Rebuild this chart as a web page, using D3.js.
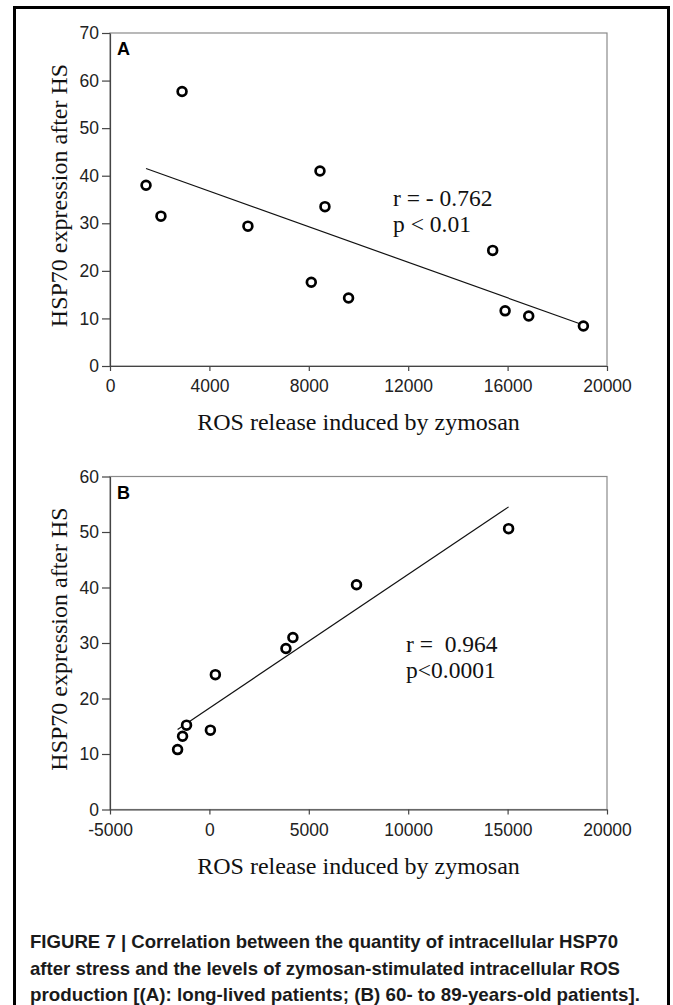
<!DOCTYPE html>
<html>
<head>
<meta charset="utf-8">
<script src="https://cdn.jsdelivr.net/npm/d3@7"></script>
<style>
  body { margin: 0; background: #fff; }
  svg { display: block; }
</style>
</head>
<body>
<svg id="fig"></svg>
<script>
// panel A: long-lived patients
const rosA = [2900, 1450, 2050, 5550, 8450, 8650, 8100, 9600, 15400, 15900, 16850, 19050];
const hspA = [57.7, 38.0, 31.5, 29.4, 41.0, 33.5, 17.6, 14.3, 24.3, 11.6, 10.5, 8.4];
const xTicksA = [0, 4000, 8000, 12000, 16000, 20000];
const yTicksA = [0, 10, 20, 30, 40, 50, 60, 70];
const statsA = ["r = - 0.762", "p < 0.01"];

// panel B: 60- to 89-years-old patients
const rosB = [7400, 3850, 4200, 300, -1150, -1350, 50, -1600, 15050];
const hspB = [40.5, 29.0, 31.0, 24.3, 15.2, 13.2, 14.3, 10.8, 50.6];
const xTicksB = [-5000, 0, 5000, 10000, 15000, 20000];
const yTicksB = [0, 10, 20, 30, 40, 50, 60];
const statsB = ["r =  0.964", "p<0.0001"];

const captionLines = [
  "FIGURE 7 | Correlation between the quantity of intracellular HSP70",
  "after stress and the levels of zymosan-stimulated intracellular ROS",
  "production [(A): long-lived patients; (B) 60- to 89-years-old patients]."
];

const width = 673;
const height = 1005;
const svg = d3.select("#fig").attr("width", width).attr("height", height);

// outer figure frame (bottom runs off the page)
svg.append("path")
  .attr("d", `M14.5,${height + 5} V7.5 H668.5 V${height + 5}`)
  .attr("fill", "none")
  .attr("stroke", "#000")
  .attr("stroke-width", 3);

function linfit(xs, ys) {
  const mx = d3.mean(xs), my = d3.mean(ys);
  let sxy = 0, sxx = 0;
  xs.forEach((x, i) => { sxy += (x - mx) * (ys[i] - my); sxx += (x - mx) ** 2; });
  const b = sxy / sxx;
  return (x) => my + b * (x - mx);
}

function drawPanel(cfg) {
  const { xs, ys, xTicks, yTicks, top, bottom, label, stats, statsX, statsY } = cfg;
  const left = 110, right = 607;
  const x = d3.scaleLinear().domain(d3.extent(xTicks)).range([left, right]);
  const y = d3.scaleLinear().domain(d3.extent(yTicks)).range([bottom, top]);
  const g = svg.append("g");

  // plot box
  g.append("rect")
    .attr("x", left).attr("y", top)
    .attr("width", right - left).attr("height", bottom - top)
    .attr("fill", "none").attr("stroke", "#8a8a8a").attr("stroke-width", 1.2);

  const yAxis = g.append("g")
    .attr("transform", `translate(${left},0)`)
    .call(d3.axisLeft(y).tickValues(yTicks).tickSize(8).tickSizeOuter(0).tickPadding(3));
  const xAxis = g.append("g")
    .attr("transform", `translate(0,${bottom})`)
    .call(d3.axisBottom(x).tickValues(xTicks).tickSize(5).tickSizeOuter(0).tickPadding(9)
      .tickFormat((d) => String(d)));
  [xAxis, yAxis].forEach((a) => {
    a.attr("font-size", null).attr("font-family", null);
    a.select(".domain").attr("stroke", "#444").attr("stroke-width", 1.2);
    a.selectAll(".tick line").attr("stroke", "#444").attr("stroke-width", 1.2);
    a.selectAll("text")
      .style("font-family", "Arial, 'Liberation Sans', sans-serif")
      .style("font-size", "17.5px")
      .attr("fill", "#222");
  });

  // regression line over the data range
  const fit = linfit(xs, ys);
  const [x0, x1] = d3.extent(xs);
  g.append("line")
    .attr("x1", x(x0)).attr("y1", y(fit(x0)))
    .attr("x2", x(x1)).attr("y2", y(fit(x1)))
    .attr("stroke", "#111").attr("stroke-width", 1.2);

  g.selectAll("circle")
    .data(xs.map((v, i) => [v, ys[i]]))
    .enter()
    .append("circle")
    .attr("cx", (d) => x(d[0]))
    .attr("cy", (d) => y(d[1]))
    .attr("r", 4.4)
    .attr("fill", "#fff")
    .attr("stroke", "#000")
    .attr("stroke-width", 2.7);

  g.append("text")
    .attr("x", left + 7).attr("y", top + 22)
    .text(label)
    .style("font-family", "Arial, 'Liberation Sans', sans-serif")
    .style("font-weight", "bold")
    .style("font-size", "18px");

  g.selectAll(".stat")
    .data(stats)
    .enter()
    .append("text")
    .attr("class", "stat")
    .attr("x", statsX)
    .attr("y", (d, i) => statsY + i * 26)
    .attr("xml:space", "preserve")
    .style("white-space", "pre")
    .text((d) => d)
    .style("font-family", "'Liberation Serif', 'Times New Roman', serif")
    .style("font-size", "23.5px")
    .attr("fill", "#111");

  g.append("text")
    .attr("x", (left + right) / 2).attr("y", bottom + 64)
    .attr("text-anchor", "middle")
    .text("ROS release induced by zymosan")
    .style("font-family", "'Liberation Serif', 'Times New Roman', serif")
    .style("font-size", "24px")
    .attr("fill", "#111");

  g.append("text")
    .attr("transform", `translate(67,${(top + bottom) / 2 - 4}) rotate(-90)`)
    .attr("text-anchor", "middle")
    .text("HSP70 expression after HS")
    .style("font-family", "'Liberation Serif', 'Times New Roman', serif")
    .style("font-size", "24px")
    .attr("fill", "#111");
}

drawPanel({
  xs: rosA, ys: hspA, xTicks: xTicksA, yTicks: yTicksA,
  top: 33, bottom: 366, label: "A",
  stats: statsA, statsX: 393, statsY: 206
});
drawPanel({
  xs: rosB, ys: hspB, xTicks: xTicksB, yTicks: yTicksB,
  top: 476.5, bottom: 809.5, label: "B",
  stats: statsB, statsX: 406, statsY: 652
});

svg.selectAll(".caption")
  .data(captionLines)
  .enter()
  .append("text")
  .attr("class", "caption")
  .attr("x", 30)
  .attr("y", (d, i) => 948 + i * 26.5)
  .attr("textLength", (d, i) => [588, 590, 610][i])
  .attr("lengthAdjust", "spacingAndGlyphs")
  .text((d) => d)
  .style("font-family", "Arial, 'Liberation Sans', sans-serif")
  .style("font-weight", "bold")
  .style("font-size", "18.5px")
  .attr("fill", "#1a1a1a");
</script>
</body>
</html>
